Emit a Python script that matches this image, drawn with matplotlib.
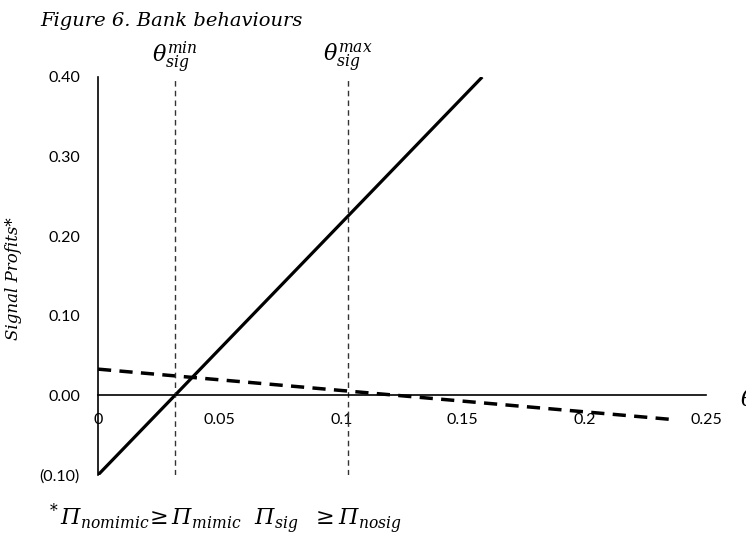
import matplotlib
matplotlib.use('Agg')
import matplotlib.pyplot as plt

# Signalling bank: profits rise with theta
theta_sig = [0.0, 0.158]
profit_sig = [-0.10, 0.40]

# Mimicking bank: profits fall slowly with theta
theta_mimic = [0.0, 0.235]
profit_mimic = [0.033, -0.030]

# Threshold values of theta
theta_min = 0.0317
theta_max = 0.1028

xticks = [0, 0.05, 0.1, 0.15, 0.2, 0.25]
xtick_labels = ['0', '0.05', '0.1', '0.15', '0.2', '0.25']
yticks = [-0.10, 0.0, 0.10, 0.20, 0.30, 0.40]
ytick_labels = ['(0.10)', '0.00', '0.10', '0.20', '0.30', '0.40']

# italic serif math everywhere (Greek capitals included)
plt.rcParams['mathtext.fontset'] = 'custom'
plt.rcParams['mathtext.rm'] = 'DejaVu Serif:italic'
plt.rcParams['mathtext.it'] = 'DejaVu Serif:italic'
plt.rcParams['mathtext.bf'] = 'DejaVu Serif:bold'

W, H = 746, 537
fig = plt.figure(figsize=(W / 100, H / 100), dpi=100)
ax = fig.add_axes([98 / W, 1 - 475 / H, (706 - 98) / W, (475 - 77) / H])

ax.plot(theta_sig, profit_sig, color='black', lw=2.3, solid_capstyle='butt')
ax.plot(theta_mimic, profit_mimic, color='black', lw=2.5, dashes=(3.8, 2.4))

for t in (theta_min, theta_max):
    ax.plot([t, t], [-0.10, 0.40], color='#333333', lw=1.0, dashes=(4, 3))

ax.set_xlim(0, 0.25)
ax.set_ylim(-0.10, 0.40)

for s in ('top', 'right'):
    ax.spines[s].set_visible(False)
ax.spines['bottom'].set_position(('data', 0))
ax.spines['left'].set_linewidth(1.2)
ax.spines['bottom'].set_linewidth(1.2)

ax.set_xticks(xticks)
ax.set_xticklabels(xtick_labels)
ax.set_yticks(yticks)
ax.set_yticklabels(ytick_labels)
ax.tick_params(axis='both', length=0, labelsize=11.5)
ax.tick_params(axis='x', pad=13)
ax.tick_params(axis='y', pad=13)
for lab in ax.get_xticklabels() + ax.get_yticklabels():
    lab.set_family('Lato')

ax.text(theta_min, 0.419, r'$\theta_{sig}^{min}$', ha='center', va='baseline', fontsize=16)
ax.text(theta_max, 0.419, r'$\theta_{sig}^{max}$', ha='center', va='baseline', fontsize=16)

fig.text(40 / W, 1 - 26 / H, 'Figure 6. Bank behaviours', family='DejaVu Serif',
         style='italic', fontsize=14, va='baseline', ha='left')
fig.text(14 / W, 1 - 279 / H, 'Signal Profits*', family='DejaVu Serif',
         style='italic', fontsize=12, rotation=90, va='center', ha='center')
fig.text(740 / W, 1 - 400 / H, r'$\theta$', fontsize=16, va='center', ha='left')
fig.text(46 / W, 1 - 525 / H,
         r'$^*\Pi_{nomimic}\!\geq \Pi_{mimic}\ \ \Pi_{sig}\ \ \geq \Pi_{nosig}$',
         fontsize=16, va='baseline', ha='left')

fig.savefig('out.png', dpi=100)
